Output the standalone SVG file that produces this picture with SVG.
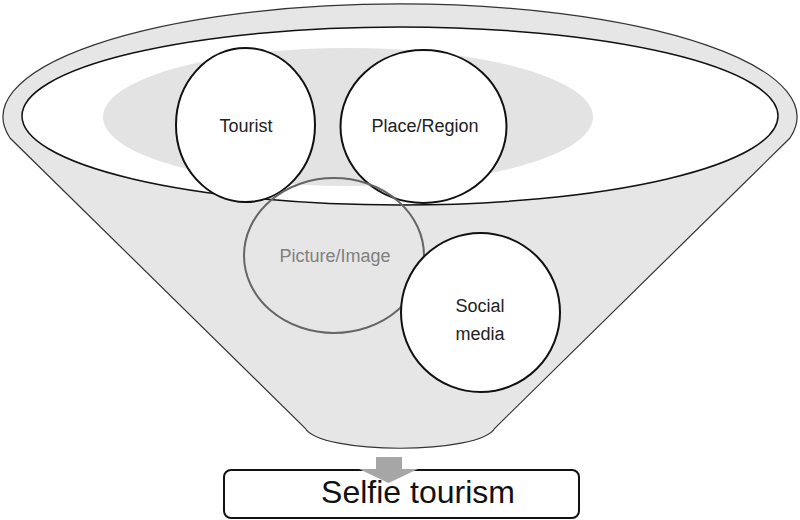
<svg xmlns="http://www.w3.org/2000/svg" width="800" height="520" viewBox="0 0 800 520">
<style>
.lbl{font-family:"Liberation Sans",Arial,sans-serif;font-size:18px;fill:#222;text-anchor:middle}
.circ{fill:#fff;stroke:#111;stroke-width:2}
</style>
<rect width="800" height="520" fill="#fff"/>
<g id="funnel">
<path d="M 10 138 A 397 113 0 1 1 790 138 L 495 428 C 480 455 320 455 305 428 Z" fill="#e6e6e6" stroke="#333" stroke-width="1.2"/>
<ellipse cx="400" cy="116" rx="378" ry="89" fill="#fff" stroke="#111" stroke-width="1.5"/>
<ellipse cx="348" cy="117" rx="245" ry="69" fill="#e3e3e3"/>
</g>
<g id="tourist">
<ellipse class="circ" cx="245.5" cy="125" rx="69.5" ry="77"/>
<text class="lbl" x="246" y="132">Tourist</text>
</g>
<g id="place">
<ellipse class="circ" cx="423.5" cy="126.5" rx="83" ry="76.5"/>
<text class="lbl" x="425" y="132">Place/Region</text>
</g>
<g id="picture">
<ellipse cx="334" cy="255.5" rx="90" ry="77.5" fill="none" stroke="#666" stroke-width="2"/>
<text class="lbl" x="335" y="262" style="fill:#808080">Picture/Image</text>
</g>
<g id="social">
<ellipse class="circ" cx="480.5" cy="312.5" rx="79.5" ry="79.5"/>
<text class="lbl" x="480" y="312">Social</text>
<text class="lbl" x="480" y="340">media</text>
</g>
<g id="result">
<rect x="224" y="470" width="355" height="48" rx="7" fill="#fff" stroke="#111" stroke-width="2"/>
<text class="lbl" x="418" y="503" style="font-size:32px;fill:#111">Selfie tourism</text>
</g>
<g id="connectors">
<path d="M 376 457 L 402 457 L 402 469 L 418 469 L 388.5 483 L 359 469 L 376 469 Z" fill="#a6a6a6"/>
</g>
</svg>
